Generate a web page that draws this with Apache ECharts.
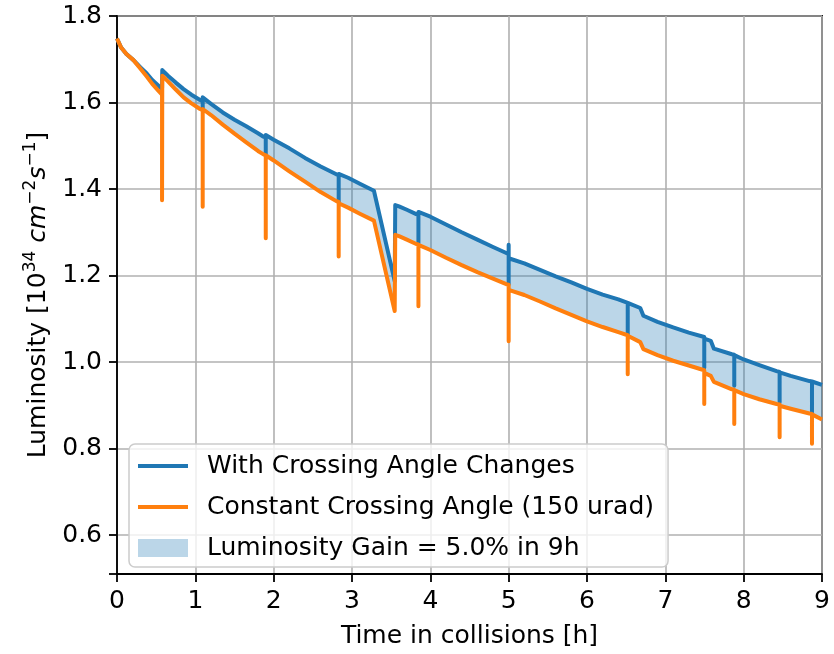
<!DOCTYPE html>
<html>
<head>
<meta charset="utf-8">
<script src="https://cdn.jsdelivr.net/npm/echarts@6/dist/echarts.min.js"></script>
<style>
  html, body { margin: 0; padding: 0; background: #fff; }
  #chart { width: 834px; height: 654px; }
</style>
</head>
<body>
<div id="chart"></div>
<script>
// time in collisions [h]; spikes are repeated hours (before / dip / after)
const hours = [
  0.00, 0.05, 0.12, 0.21, 0.30, 0.38, 0.45, 0.53,
  0.575, 0.575, 0.578,
  0.65, 0.75, 0.85, 0.95, 1.06,
  1.094, 1.094, 1.094,
  1.20, 1.35, 1.50, 1.65, 1.80, 1.87,
  1.899, 1.899, 1.899,
  2.00, 2.20, 2.40, 2.60, 2.80,
  2.83, 2.83, 2.83,
  2.95, 3.10, 3.28, 3.545, 3.552, 3.60, 3.70, 3.82,
  3.848, 3.848, 3.848,
  4.00, 4.20, 4.40, 4.60, 4.80, 4.97,
  5.00, 5.00, 5.00, 5.00,
  5.20, 5.40, 5.60, 5.80, 6.00, 6.20, 6.40,
  6.52, 6.52, 6.52,
  6.68, 6.72, 6.90, 7.10, 7.30,
  7.497, 7.497, 7.497,
  7.58, 7.62, 7.85,
  7.88, 7.88, 7.88,
  8.00, 8.20, 8.42,
  8.459, 8.459, 8.459,
  8.60, 8.84,
  8.872, 8.872, 8.872,
  9.00
]
// luminosity [1e34 cm^-2 s^-1]
const withChanges = [
  1.748, 1.728, 1.712, 1.698, 1.681, 1.667, 1.652, 1.639,
  1.632, 1.632, 1.675,
  1.662, 1.646, 1.631, 1.618, 1.606,
  1.603, 1.582, 1.612,
  1.597, 1.577, 1.560, 1.545, 1.529, 1.521,
  1.519, 1.478, 1.525,
  1.514, 1.494, 1.472, 1.452, 1.434,
  1.432, 1.370, 1.435,
  1.426, 1.412, 1.396, 1.187, 1.363, 1.360, 1.352, 1.342,
  1.340, 1.275, 1.347,
  1.336, 1.318, 1.300, 1.283, 1.266, 1.252,
  1.250, 1.271, 1.180, 1.240,
  1.228, 1.213, 1.198, 1.184, 1.169, 1.156, 1.145,
  1.137, 1.064, 1.137,
  1.125, 1.107, 1.093, 1.080, 1.068,
  1.058, 0.987, 1.054,
  1.049, 1.031, 1.018,
  1.017, 0.945, 1.016,
  1.006, 0.993, 0.979,
  0.977, 0.907, 0.976,
  0.968, 0.956,
  0.955, 0.884, 0.955,
  0.947
]
const constantAngle = [
  1.748, 1.728, 1.712, 1.698, 1.678, 1.660, 1.643, 1.627,
  1.618, 1.374, 1.662,
  1.649, 1.630, 1.612, 1.598, 1.585,
  1.582, 1.359, 1.585,
  1.571, 1.549, 1.528, 1.508, 1.488, 1.480,
  1.478, 1.286, 1.478,
  1.466, 1.441, 1.417, 1.393, 1.372,
  1.370, 1.244, 1.367,
  1.357, 1.343, 1.327, 1.118, 1.294, 1.291, 1.283, 1.273,
  1.272, 1.129, 1.271,
  1.259, 1.241, 1.224, 1.208, 1.193, 1.180,
  1.179, 1.179, 1.048, 1.167,
  1.155, 1.140, 1.124, 1.109, 1.094, 1.081, 1.069,
  1.062, 0.972, 1.061,
  1.046, 1.030, 1.016, 1.003, 0.992,
  0.981, 0.903, 0.975,
  0.968, 0.954, 0.937,
  0.936, 0.857, 0.935,
  0.926, 0.914, 0.903,
  0.902, 0.826, 0.899,
  0.892, 0.881,
  0.880, 0.811, 0.879,
  0.867
]

const BLUE = '#1f77b4'
const ORANGE = '#ff7f0e'
const FILL = 'rgba(31, 119, 180, 0.3)'
const FONT = 'DejaVu Sans'
const FS = 25

const nameBlue = 'With Crossing Angle Changes'
const nameOrange = 'Constant Crossing Angle (150 urad)'
const nameGain = 'Luminosity Gain = 5.0% in 9h'

const bluePts = hours.map((t, i) => [t, withChanges[i]])
const orangePts = hours.map((t, i) => [t, constantAngle[i]])

// polygon between the two curves, placed through the axis scales
function renderGain(params, api) {
  const pts = []
  for (let i = 0; i < hours.length; i++) pts.push(api.coord([hours[i], withChanges[i]]))
  for (let i = hours.length - 1; i >= 0; i--) pts.push(api.coord([hours[i], constantAngle[i]]))
  return {
    type: 'polygon',
    shape: { points: pts },
    style: { fill: FILL, stroke: null },
  }
}

const chart = echarts.init(document.getElementById('chart'))

chart.setOption({
  animation: false,
  textStyle: { fontFamily: FONT, color: '#000' },
  grid: {
    left: 117, right: 12, top: 16, bottom: 77,
    show: true, borderColor: '#000', borderWidth: 1.8,
  },
  legend: {
    orient: 'vertical',
    left: 129, top: 444,
    padding: [9, 14, 6, 9],
    itemWidth: 50, itemHeight: 18,
    itemGap: 15,
    backgroundColor: 'rgba(255,255,255,0.8)',
    borderColor: '#cccccc', borderWidth: 1.5, borderRadius: 6,
    selectedMode: false,
    textStyle: { fontFamily: FONT, fontSize: FS, color: '#000', lineHeight: 26, padding: [0, 0, 0, 14] },
    data: [
      { name: nameBlue, icon: 'path://M0,0H50V4H0Z', itemStyle: { color: BLUE, borderWidth: 0 } },
      { name: nameOrange, icon: 'path://M0,0H50V4H0Z', itemStyle: { color: ORANGE, borderWidth: 0 } },
      { name: nameGain, icon: 'rect', itemStyle: { color: FILL, borderWidth: 0 } },
    ],
  },
  xAxis: {
    type: 'value',
    min: 0, max: 9, interval: 1,
    name: 'Time in collisions [h]',
    nameLocation: 'middle',
    nameGap: 50,
    nameTextStyle: { fontFamily: FONT, fontSize: FS, color: '#000' },
    axisLine: { lineStyle: { color: '#000', width: 1.8 } },
    axisTick: { length: 8, lineStyle: { color: '#000', width: 1.8 } },
    axisLabel: { fontFamily: FONT, fontSize: FS, color: '#000', margin: 15 },
    splitLine: { lineStyle: { color: '#b0b0b0', width: 1.6 } },
  },
  yAxis: {
    type: 'value',
    min: 0.51, max: 1.8, splitNumber: 7,
    name: '{n|Luminosity [10}{sup|34}{n| }{i|cm}{sup|−2}{i|s}{sup|−1}{n|]}',
    nameLocation: 'middle',
    nameRotate: 90,
    nameGap: 60,
    nameTextStyle: {
      rich: {
        n: { fontFamily: FONT, fontSize: FS, color: '#000', lineHeight: 34 },
        i: { fontFamily: FONT, fontSize: FS, fontStyle: 'italic', color: '#000', lineHeight: 34 },
        sup: { fontFamily: FONT, fontSize: 17, color: '#000', lineHeight: 20, verticalAlign: 'top' },
      },
    },
    axisLine: { show: true, lineStyle: { color: '#000', width: 1.8 } },
    axisTick: { show: true, length: 8, lineStyle: { color: '#000', width: 1.8 } },
    axisLabel: {
      fontFamily: FONT, fontSize: FS, color: '#000', margin: 15,
      formatter: v => (Math.abs(v * 5 - Math.round(v * 5)) < 1e-6 ? v.toFixed(1) : ''),
    },
    splitLine: { lineStyle: { color: '#b0b0b0', width: 1.6 } },
  },
  series: [
    {
      name: nameGain,
      type: 'custom',
      data: [0],
      renderItem: renderGain,
      itemStyle: { color: FILL },
      silent: true,
      z: 1,
    },
    {
      name: nameBlue,
      type: 'line',
      data: bluePts,
      symbol: 'none',
      itemStyle: { color: BLUE },
      lineStyle: { color: BLUE, width: 4, join: 'round' },
      z: 2,
    },
    {
      name: nameOrange,
      type: 'line',
      data: orangePts,
      symbol: 'none',
      itemStyle: { color: ORANGE },
      lineStyle: { color: ORANGE, width: 4, join: 'round' },
      z: 3,
    },
  ],
})
</script>
</body>
</html>
